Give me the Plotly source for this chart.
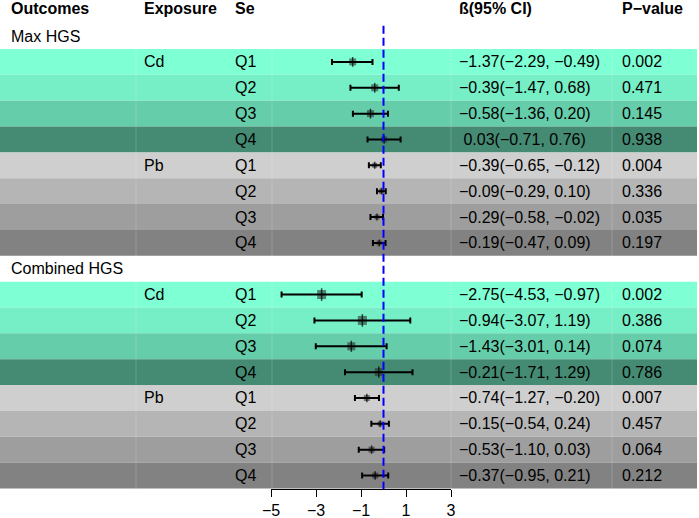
import plotly.graph_objects as go

# Forest plot: metals (Cd, Pb) quartiles vs handgrip strength

outcomes = ["Max HGS", "Combined HGS"]
exposures = ["Cd", "Pb"]
quartiles = ["Q1", "Q2", "Q3", "Q4"]

beta = [-1.37, -0.39, -0.58, 0.03, -0.39, -0.09, -0.29, -0.19,
        -2.75, -0.94, -1.43, -0.21, -0.74, -0.15, -0.53, -0.37]
lower = [-2.29, -1.47, -1.36, -0.71, -0.65, -0.29, -0.58, -0.47,
         -4.53, -3.07, -3.01, -1.71, -1.27, -0.54, -1.10, -0.95]
upper = [-0.49, 0.68, 0.20, 0.76, -0.12, 0.10, -0.02, 0.09,
         -0.97, 1.19, 0.14, 1.29, -0.20, 0.24, 0.03, 0.21]
p_value = ["0.002", "0.471", "0.145", "0.938", "0.004", "0.336", "0.035", "0.197",
           "0.002", "0.386", "0.074", "0.786", "0.007", "0.457", "0.064", "0.212"]
x_ticks = [-5, -3, -1, 1, 3]

# styling
W, H = 699, 518
box_px = [7, 7, 7, 6, 5, 5, 5, 5, 9, 9, 8, 8, 6, 5, 6, 6]
cd_fill = ["#7FFFD4", "#76EEC6", "#66CDAA", "#458B74"]
pb_fill = ["#CFCFCF", "#B5B5B5", "#9E9E9E", "#828282"]
FONT = "Liberation Sans, Arial, sans-serif"
col_x = {"out": 9, "exp": 142, "se": 233, "ci": 457, "p": 620}


def px(v):
    return v / W


def fmt(v, lead=False, nd=2):
    s = f"{v: .{nd}f}" if lead else f"{v:.{nd}f}"
    return s.replace("-", "\u2212")


# row index of every data line (row 0 header, 1 = Max HGS, 10 = Combined HGS)
rows = [2 + i % 8 + 9 * (i // 8) for i in range(len(beta))]

shapes = []
annotations = []


def add_text(x, y, text, bold=False):
    annotations.append(dict(
        x=px(x), y=y, xref="paper", yref="y", xanchor="left", yanchor="middle",
        text=f"<b>{text}</b>" if bold else text, showarrow=False,
        font=dict(family=FONT, size=16, color="black")))


# header
for key, label in [("out", "Outcomes"), ("exp", "Exposure"), ("se", "Se"),
                   ("ci", "ß(95% CI)"), ("p", "P\u2212value")]:
    add_text(col_x[key], -0.08, label, bold=True)

for o, name in enumerate(outcomes):
    add_text(col_x["out"], 1 + 9 * o, name)

for i, r in enumerate(rows):
    e = (i // 4) % 2
    q = i % 4
    fill = cd_fill[q] if e == 0 else pb_fill[q]
    shapes.append(dict(type="rect", xref="paper", yref="y", x0=0, x1=px(697),
                       y0=r - 0.5, y1=r + 0.5, fillcolor=fill, line_width=0, layer="below"))
    if q == 0:
        add_text(col_x["exp"], r, exposures[e])
    add_text(col_x["se"], r, quartiles[q])
    ci = f"{fmt(beta[i], True)}({fmt(lower[i])}, {fmt(upper[i])})"
    add_text(col_x["ci"], r, ci)
    add_text(col_x["p"], r, p_value[i])

# faint cell borders
for o in range(2):
    for xb in [136, 272, 451, 612]:
        shapes.append(dict(type="line", xref="paper", yref="y", x0=px(xb), x1=px(xb),
                           y0=1.5 + 9 * o, y1=9.5 + 9 * o,
                           line=dict(color="rgba(255,255,255,0.18)", width=1), layer="below"))

# reference line at 0
shapes.append(dict(type="line", xref="x", yref="y", x0=0, x1=0, y0=0.6, y1=18.55,
                   line=dict(color="#0000FF", width=2, dash="8px,4px"), layer="above"))

fig = go.Figure()

fig.add_trace(go.Scatter(
    x=beta, y=rows, mode="markers", cliponaxis=False, hoverinfo="skip",
    marker=dict(symbol="square", size=box_px, color="rgba(40,40,40,0.8)", line_width=0)))

fig.add_trace(go.Scatter(
    x=beta, y=rows, mode="markers", cliponaxis=False,
    marker=dict(size=1, color="rgba(0,0,0,0)"),
    error_x=dict(type="data", symmetric=False,
                 array=[u - b for u, b in zip(upper, beta)],
                 arrayminus=[b - l for b, l in zip(beta, lower)],
                 color="black", thickness=2, width=3)))

fig.add_trace(go.Scatter(
    x=beta, y=rows, mode="markers", cliponaxis=False, hoverinfo="skip",
    marker=dict(symbol="line-ns", size=box_px, color="black",
                line=dict(color="black", width=1.5))))

fig.update_layout(
    width=W, height=H, showlegend=False,
    margin=dict(l=0, r=0, t=0, b=29, autoexpand=False),
    paper_bgcolor="white", plot_bgcolor="rgba(0,0,0,0)",
    shapes=shapes, annotations=annotations,
    xaxis=dict(domain=[px(271), px(451)], range=[-5, 3], tickvals=x_ticks,
               ticktext=[fmt(t, nd=0) for t in x_ticks], automargin=False,
               ticks="outside", ticklen=7, tickwidth=1, tickcolor="black",
               showline=True, linecolor="black", linewidth=1,
               showgrid=False, zeroline=False,
               tickfont=dict(family=FONT, size=16, color="black")),
    yaxis=dict(range=[18.521, -0.3955], visible=False, showgrid=False,
               zeroline=False, automargin=False),
)

# drop the default page margin so the figure sits at the window corner
fig.write_html("out.html", config={"displayModeBar": False},
               post_script="document.body.style.margin = '0px';")
